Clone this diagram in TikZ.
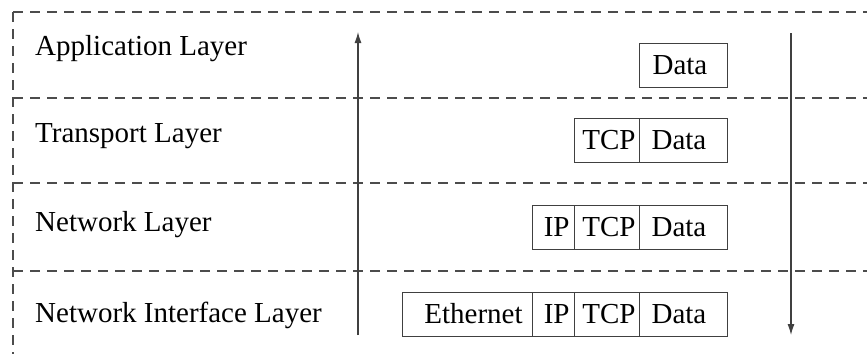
\documentclass[tikz,border=0pt]{standalone}
\usepackage{fontspec}
\setmainfont{Liberation Serif}
\usetikzlibrary{arrows.meta}
\begin{document}
\begin{tikzpicture}[x=1pt,y=-1pt,
  font=\fontsize{29}{34}\selectfont,
  sep/.style={draw=black!70, line width=1.2pt, dash pattern=on 10pt off 7pt},
  flow/.style={draw=black!75, line width=1.2pt, -{Latex[length=11pt,width=7pt]}},
  layer/.style={anchor=base west, inner sep=0pt},
  cell/.style={draw=black!75, line width=1.2pt, anchor=north west,
    minimum height=44pt, inner ysep=0pt, text height=19pt, text depth=1pt},
  lcell/.style={cell, align=left},
  rcell/.style={cell, align=right}]
\useasboundingbox (0,0) rectangle (867,354);

% layer separators
\coordinate (c0) at (13,12);
\coordinate (c0r) at (867,12);
\coordinate (c1) at (13,98);
\coordinate (c1r) at (867,98);
\coordinate (c2) at (13,183);
\coordinate (c2r) at (867,183);
\coordinate (c3) at (13,271);
\coordinate (c3r) at (867,271);
\coordinate (cb) at (13,354);
\draw[sep] (c0) -- (c0r);
\draw[sep] (c1) -- (c1r);
\draw[sep] (c2) -- (c2r);
\draw[sep] (c3) -- (c3r);
\draw[sep] (c0) -- (cb);

% layer names
\node[layer] (app) at (35,55) {Application Layer};
\node[layer] (trn) at (35,142) {Transport Layer};
\node[layer] (net) at (35,231) {Network Layer};
\node[layer] (nif) at (35,322) {Network Interface Layer};

% receiving (up) and sending (down) directions
\coordinate (upS) at (358,335);
\coordinate (upE) at (358,32);
\coordinate (dnS) at (791,33);
\coordinate (dnE) at (791,335);
\draw[flow] (upS) -- (upE);
\draw[flow] (dnS) -- (dnE);

% application layer
\node[lcell, inner xsep=13pt, text width=62pt] (d1) at (639,43) {Data};

% transport layer
\node[rcell, inner xsep=4pt, text width=57pt] (t2) at (574,118) {TCP};
\node[lcell, inner xsep=12pt, text width=64pt] (d2) at (639,118) {Data};

% network layer
\node[rcell, inner xsep=5pt, text width=32pt] (i3) at (532,205) {IP};
\node[rcell, inner xsep=4pt, text width=57pt] (t3) at (574,205) {TCP};
\node[lcell, inner xsep=12pt, text width=64pt] (d3) at (639,205) {Data};

% network interface layer
\node[rcell, inner xsep=10pt, text width=110pt] (e4) at (402,292) {Ethernet};
\node[rcell, inner xsep=5pt, text width=32pt] (i4) at (532,292) {IP};
\node[rcell, inner xsep=4pt, text width=57pt] (t4) at (574,292) {TCP};
\node[lcell, inner xsep=12pt, text width=64pt] (d4) at (639,292) {Data};
\end{tikzpicture}
\end{document}
